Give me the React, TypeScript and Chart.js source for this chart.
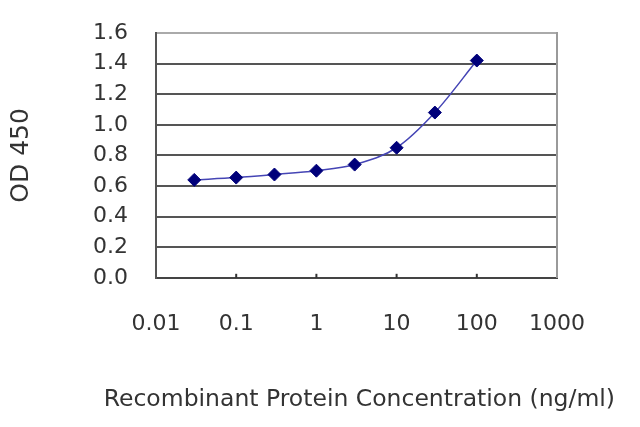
import React, { useEffect, useRef } from "react";
import { Chart, registerables } from "chart.js";

Chart.register(...registerables);

const concentrations = [0.03, 0.1, 0.3, 1, 3, 10, 30, 100];
const odValues = [0.64, 0.655, 0.675, 0.7, 0.74, 0.85, 1.08, 1.42];
const xTickValues = [0.01, 0.1, 1, 10, 100, 1000];
const xTickLabels = ["0.01", "0.1", "1", "10", "100", "1000"];
const yTickLabels = ["0.0", "0.2", "0.4", "0.6", "0.8", "1.0", "1.2", "1.4", "1.6"];
const xTitle = "Recombinant Protein Concentration (ng/ml)";
const yTitle = "OD 450";

const FONT = "'DejaVu Sans', sans-serif";

const tickMarksPlugin = {
  id: "tickMarks",
  afterDraw(chart: any) {
    const { ctx, chartArea } = chart;
    const { bottom } = chartArea;
    ctx.save();
    ctx.strokeStyle = "#333";
    ctx.lineWidth = 2;
    const xs = chart.scales.x;
    xTickValues.slice(1, -1).forEach((v) => {
      const px = xs.getPixelForValue(v);
      ctx.beginPath();
      ctx.moveTo(px, bottom);
      ctx.lineTo(px, bottom - 4);
      ctx.stroke();
    });
    ctx.restore();
  },
};

export default function App() {
  const ref = useRef<HTMLCanvasElement | null>(null);
  useEffect(() => {
    const canvas = ref.current;
    if (!canvas) return;
    const chart = new Chart(canvas, {
      type: "line",
      data: {
        datasets: [
          {
            data: concentrations.map((x, i) => ({ x, y: odValues[i] })),
            borderColor: "#4545b5",
            borderWidth: 1.5,
            backgroundColor: "#00007a",
            pointBackgroundColor: "#00007a",
            pointBorderColor: "#00007a",
            pointBorderWidth: 1,
            pointStyle: "rectRot",
            pointRadius: 6.5,
            cubicInterpolationMode: "monotone",
            fill: false,
          },
        ],
      },
      options: {
        animation: false,
        responsive: false,
        maintainAspectRatio: false,
        devicePixelRatio: 1,
        layout: { padding: { left: 0, right: 25, top: 33, bottom: 0 } },
        plugins: {
          legend: { display: false },
          tooltip: { enabled: false },
          title: {
            display: true,
            position: "bottom",
            align: "end",
            text: xTitle,
            color: "#333",
            font: { family: FONT, size: 23.5, weight: "normal" },
            padding: { top: 0, bottom: 13 },
          },
        },
        scales: {
          x: {
            type: "logarithmic",
            min: 0.01,
            max: 1000,
            afterBuildTicks: (scale: any) => {
              scale.ticks = xTickValues.map((v) => ({ value: v }));
            },
            afterFit: (scale: any) => {
              scale.height = 108;
            },
            grid: { drawOnChartArea: false, drawTicks: false },
            border: { color: "#444", width: 2 },
            ticks: {
              padding: 33,
              color: "#333",
              font: { family: FONT, size: 22 },
              maxRotation: 0,
              autoSkip: false,
              callback: (v: any) => {
                const i = xTickValues.indexOf(Number(v));
                return i >= 0 ? xTickLabels[i] : "";
              },
            },
          },
          y: {
            min: 0,
            max: 1.6,
            afterFit: (scale: any) => {
              scale.width = 156;
              scale.paddingTop = 0;
              scale.paddingBottom = 0;
            },
            grid: {
              drawTicks: false,
              lineWidth: 2,
              color: (c: any) => (c.tick && c.tick.value >= 1.6 ? "#aaaaaa" : "#555555"),
            },
            border: { color: "#555", width: 2 },
            ticks: {
              stepSize: 0.2,
              padding: 28,
              color: "#333",
              font: { family: FONT, size: 22 },
              callback: (_v: any, i: number) => yTickLabels[i],
            },
            title: {
              display: true,
              text: yTitle,
              color: "#333",
              font: { family: FONT, size: 25 },
              padding: { top: 6, bottom: 0 },
            },
          },
          y2: {
            position: "right",
            min: 0,
            max: 1.6,
            afterFit: (scale: any) => {
              scale.width = 58;
              scale.paddingTop = 0;
              scale.paddingBottom = 0;
            },
            grid: { drawOnChartArea: false, drawTicks: false },
            border: { color: "#9a9a9a", width: 2 },
            ticks: { display: false },
          },
        },
      },
      plugins: [tickMarksPlugin],
    });
    return () => chart.destroy();
  }, []);
  return (
    <div style={{ position: "absolute", left: 0, top: 0, width: 640, height: 427, background: "#fff" }}>
      <canvas ref={ref} width={640} height={427} style={{ width: 640, height: 427 }} />
    </div>
  );
}
